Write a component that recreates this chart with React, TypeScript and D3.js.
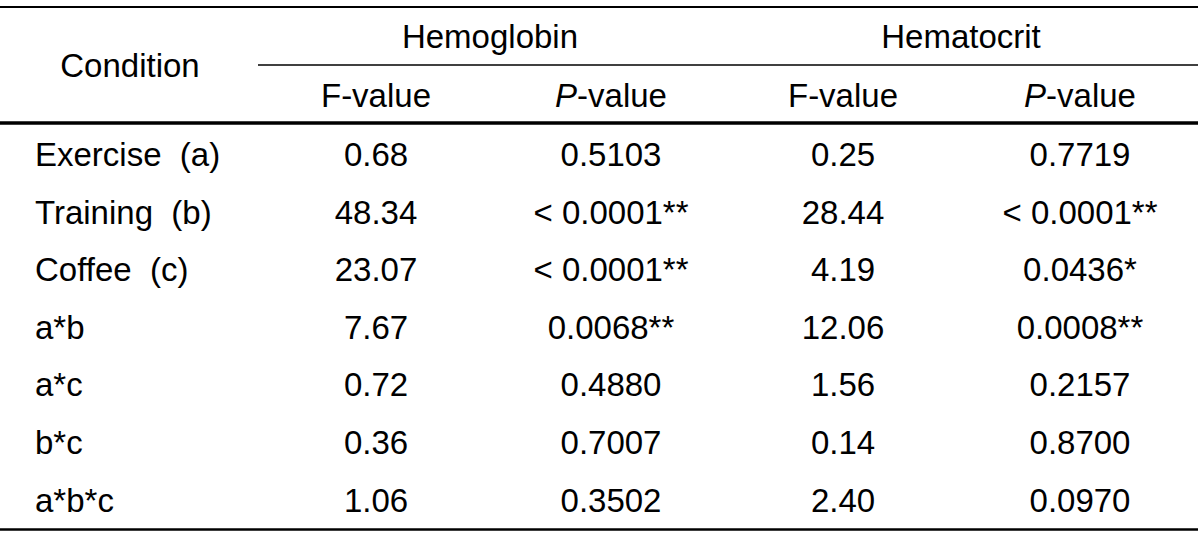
import React from "react";
import * as d3 from "d3";

const conditions = ["Exercise  (a)", "Training  (b)", "Coffee  (c)", "a*b", "a*c", "b*c", "a*b*c"];
const hbF = ["0.68", "48.34", "23.07", "7.67", "0.72", "0.36", "1.06"];
const hbP = ["0.5103", "< 0.0001**", "< 0.0001**", "0.0068**", "0.4880", "0.7007", "0.3502"];
const hctF = ["0.25", "28.44", "4.19", "12.06", "1.56", "0.14", "2.40"];
const hctP = ["0.7719", "< 0.0001**", "0.0436*", "0.0008**", "0.2157", "0.8700", "0.0970"];
const groups = ["Hemoglobin", "Hematocrit"];
const columnKeys = ["cond", "hbF", "hbP", "hctF", "hctP"];

const W = 1200;
const H = 537;
const FONT = "'Liberation Sans', Arial, sans-serif";
const FS = 33;

export default function App() {
  const x = d3.scaleOrdinal<string, number>().domain(columnKeys).range([130, 376, 611, 843, 1080]);
  const gx = d3.scaleOrdinal<string, number>().domain(groups).range([490, 961]);
  const y = d3.scalePoint<string>().domain(conditions).range([166, 511.5]);
  const cols: [string, string[]][] = [
    ["hbF", hbF],
    ["hbP", hbP],
    ["hctF", hctF],
    ["hctP", hctP],
  ];
  return (
    <svg width={W} height={H} style={{ position: "absolute", left: 0, top: 0, background: "#fff" }} fontFamily={FONT} fontSize={FS}>
      <rect x={0} y={0} width={W} height={H} fill="#fff" />
      <line x1={0} x2={1198} y1={7} y2={7} stroke="#000" strokeWidth={2} />
      <line x1={258} x2={1198} y1={65} y2={65} stroke="#000" strokeWidth={1.5} />
      <line x1={0} x2={1198} y1={123} y2={123} stroke="#000" strokeWidth={3.5} />
      <line x1={0} x2={1198} y1={529.5} y2={529.5} stroke="#000" strokeWidth={2.5} />
      <text x={x("cond")} y={77} textAnchor="middle">Condition</text>
      {groups.map((g) => (
        <text key={g} x={gx(g)} y={48} textAnchor="middle">{g}</text>
      ))}
      {["hbF", "hctF"].map((k) => (
        <text key={k} x={x(k)} y={107} textAnchor="middle">F-value</text>
      ))}
      {["hbP", "hctP"].map((k) => (
        <text key={k} x={x(k)} y={107} textAnchor="middle">
          <tspan fontStyle="italic">P</tspan>-value
        </text>
      ))}
      {conditions.map((c) => (
        <text key={c} x={35} y={y(c)} xmlSpace="preserve" style={{ whiteSpace: "pre" }}>{c}</text>
      ))}
      {cols.map(([k, vals]) =>
        vals.map((v, i) => (
          <text key={k + i} x={x(k)} y={y(conditions[i])} textAnchor="middle">{v}</text>
        ))
      )}
    </svg>
  );
}
